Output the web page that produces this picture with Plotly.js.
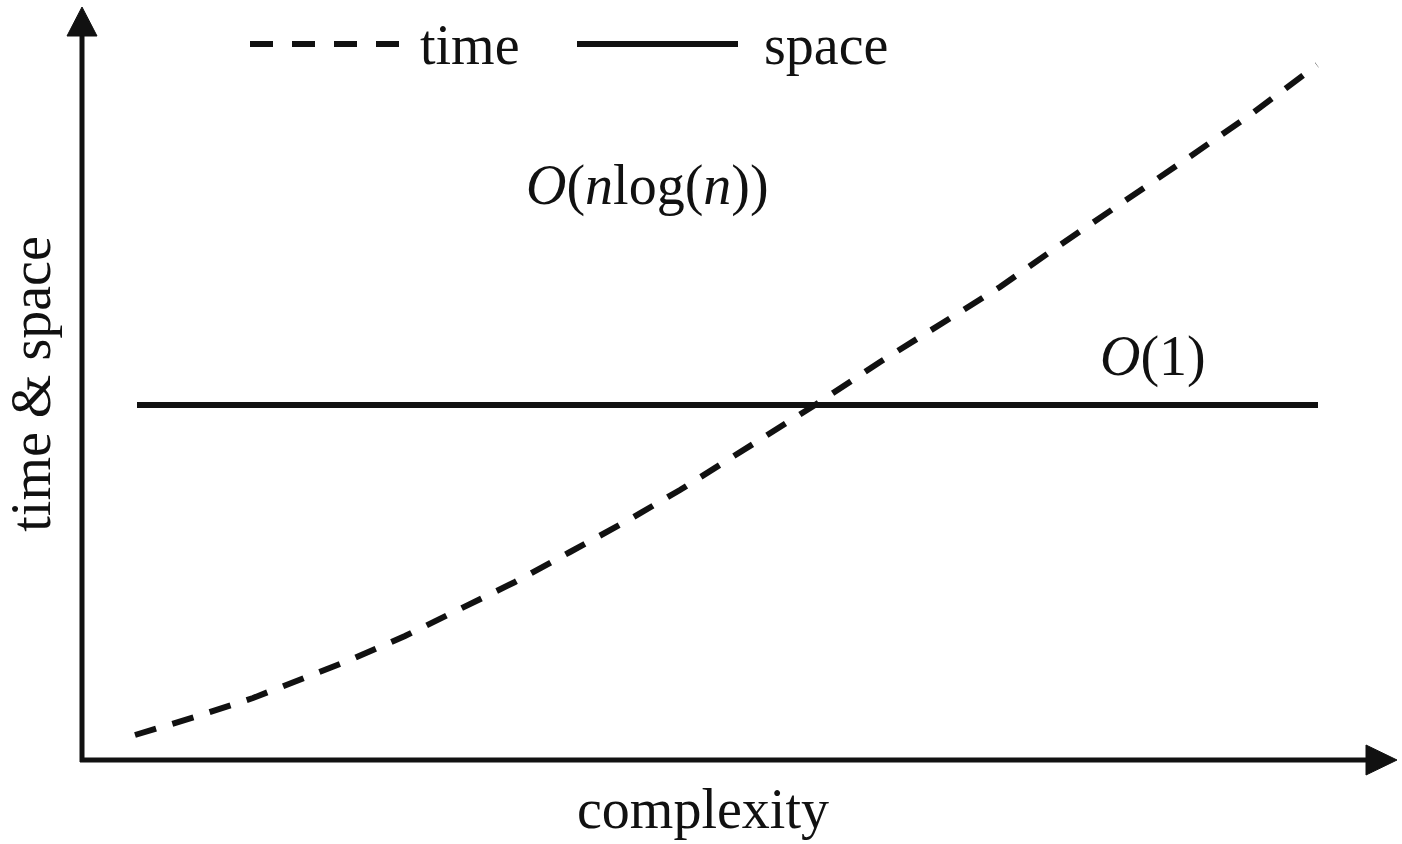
<!DOCTYPE html>
<html>
<head>
<meta charset="utf-8">
<script src="https://cdn.plot.ly/plotly-3.0.1.min.js"></script>
<style>html,body{margin:0;padding:0;background:#fff;}#chart{width:1402px;height:844px;}</style>
</head>
<body>
<div id="chart"></div>
<script>
// complexity (arbitrary units) and the curves
const timeX = [53, 113, 171, 210, 268, 323, 380, 433, 488, 543, 598, 658, 733, 798, 868, 918, 978, 1038, 1103, 1168, 1235];
const timeY = [25, 43, 62, 77, 100, 124, 152, 178, 208, 238, 270, 308, 355, 398, 442, 473, 515, 555, 600, 645, 695];
const spaceX = [55, 1236];
const spaceY = [355, 355];
const seriesNames = ["time", "space"];
const timeLabel = "<i>O</i>(<i>n</i>log(<i>n</i>))";
const spaceLabel = "<i>O</i>(1)";
const xTitle = "complexity";
const yTitle = "time &amp; space";

const L = 82, T = 8, R = 5, B = 84;
const W = 1402 - L - R, H = 844 - T - B;
const px = x => (x - L) / W;
const py = y => (844 - B - y) / H;
const FONT = "Liberation Serif, Times New Roman, serif";

const traces = [
  {x: timeX, y: timeY, name: seriesNames[0], mode: "lines", type: "scatter",
   line: {color: "#111", width: 6, dash: "22px,17px"}, showlegend: false, hoverinfo: "skip"},
  {x: spaceX, y: spaceY, name: seriesNames[1], mode: "lines", type: "scatter",
   line: {color: "#111", width: 6}, showlegend: false, hoverinfo: "skip"}
];

const shapes = [
  // y axis line and arrow
  {type: "line", xref: "paper", yref: "paper", x0: px(82), x1: px(82), y0: py(762), y1: py(34), line: {color: "#111", width: 5}},
  {type: "path", xref: "paper", yref: "paper", fillcolor: "#111", line: {color: "#111", width: 1},
   path: `M ${px(82)} ${py(7)} L ${px(67)} ${py(36)} L ${px(97)} ${py(36)} Z`},
  // x axis line and arrow
  {type: "line", xref: "paper", yref: "paper", x0: px(80), x1: px(1368), y0: py(760), y1: py(760), line: {color: "#111", width: 5}},
  {type: "path", xref: "paper", yref: "paper", fillcolor: "#111", line: {color: "#111", width: 1},
   path: `M ${px(1397)} ${py(760)} L ${px(1366)} ${py(745)} L ${px(1366)} ${py(775)} Z`},
  // legend samples
  {type: "line", xref: "paper", yref: "paper", x0: px(250), x1: px(399), y0: py(44), y1: py(44), line: {color: "#111", width: 6, dash: "23px,19px"}},
  {type: "line", xref: "paper", yref: "paper", x0: px(577), x1: px(738), y0: py(44), y1: py(44), line: {color: "#111", width: 6}}
];

const ann = (text, x, y, yanchor) => ({text, xref: "paper", yref: "paper", x: px(x), y: py(y), showarrow: false,
  xanchor: "center", yanchor: yanchor || "middle", font: {family: FONT, size: 56, color: "#111"}});

const annotations = [
  ann(seriesNames[0], 470, 45),
  ann(seriesNames[1], 826, 45),
  ann(timeLabel, 647, 186),
  ann(spaceLabel, 1153, 356),
  ann(xTitle, 703, 776, "top")
];

const layout = {
  width: 1402, height: 844,
  margin: {l: L, r: R, t: T, b: B},
  paper_bgcolor: "#fff", plot_bgcolor: "#fff",
  showlegend: false,
  font: {family: FONT, size: 56, color: "#111"},
  xaxis: {range: [0, W], showgrid: false, zeroline: false, showticklabels: false, ticks: "", showline: false},
  yaxis: {range: [0, H], showgrid: false, zeroline: false, showticklabels: false, ticks: "", showline: false,
          title: {text: yTitle, font: {family: FONT, size: 56, color: "#111"}, standoff: 22}},
  shapes, annotations
};

Plotly.newPlot("chart", traces, layout, {staticPlot: true, displayModeBar: false});
</script>
</body>
</html>
